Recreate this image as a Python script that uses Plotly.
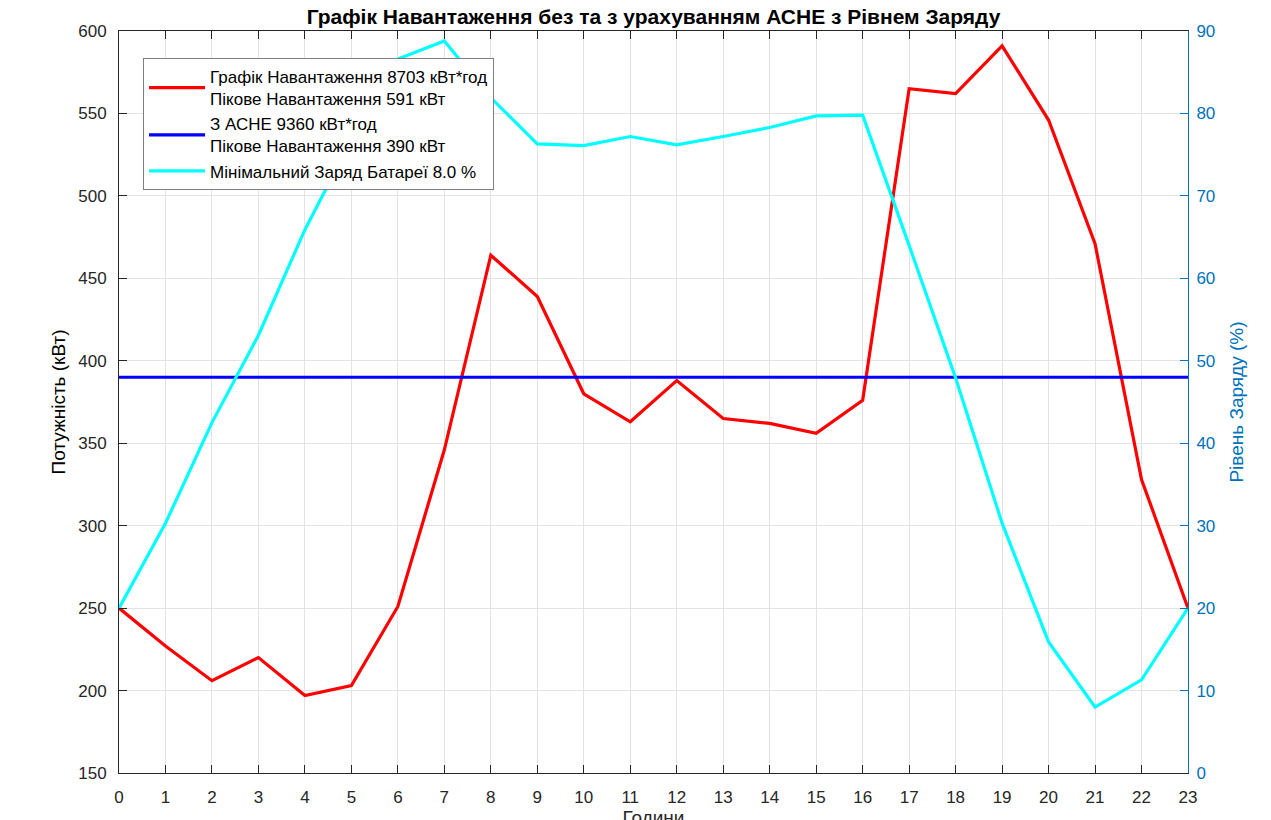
import plotly.graph_objects as go

hours = list(range(24))
load_kw = [250, 227, 206, 220, 197, 203, 251, 346, 464, 439, 380, 363, 388, 365, 362, 356,
           376, 565, 562, 591, 546, 471, 328, 250]
bess_kw = [390] * 24
soc_pct = [20.0, 30.3, 42.5, 53.1, 65.9, 76.8, 86.6, 88.8, 81.9, 76.3, 76.1, 77.2, 76.2, 77.2,
           78.3, 79.7, 79.8, 64.0, 47.9, 30.3, 15.9, 8.0, 11.3, 20.0]

title_text = "Графік Навантаження без та з урахуванням АСНЕ з Рівнем Заряду"
name_load = "Графік Навантаження 8703 кВт*год<br>Пікове Навантаження 591 кВт"
name_bess = "З АСНЕ 9360 кВт*год<br>Пікове Навантаження 390 кВт"
name_soc = "Мінімальний Заряд Батареї 8.0 %"

FONT = "Liberation Sans, Arial, sans-serif"
AXC = "#262626"
BLUE_AX = "#0072BD"

fig = go.Figure()
fig.add_trace(go.Scatter(x=hours, y=load_kw, mode="lines", name=name_load,
                         line=dict(color="#FF0000", width=3.2)))
fig.add_trace(go.Scatter(x=hours, y=bess_kw, mode="lines", name=name_bess,
                         line=dict(color="#0000FF", width=3.2)))
fig.add_trace(go.Scatter(x=hours, y=soc_pct, mode="lines", name=name_soc, yaxis="y2",
                         line=dict(color="#00FFFF", width=3.2)))

fig.update_layout(
    width=1271, height=820,
    margin=dict(l=111, r=91, t=23, b=55),
    paper_bgcolor="white", plot_bgcolor="white",
    font=dict(family=FONT, size=17, color=AXC),
    title=dict(text="<b>" + title_text + "</b>", xref="paper", x=0.5, xanchor="center",
               yref="container", y=0.9895, yanchor="middle",
               automargin=False,
               font=dict(family=FONT, size=21, color="black")),
    showlegend=True,
    legend=dict(x=0.0225, y=0.9636, xanchor="left", yanchor="top",
                bgcolor="white", bordercolor="#7f7f7f", borderwidth=1,
                font=dict(family=FONT, size=17, color="black"), tracegroupgap=0,
                itemwidth=56),
    xaxis=dict(range=[0, 23], tickmode="linear", dtick=1, showgrid=True, automargin=False,
               gridcolor="#e3e3e3", gridwidth=1, zeroline=False,
               showline=True, linecolor=AXC, linewidth=1, mirror="ticks",
               ticks="inside", ticklen=8, tickcolor=AXC,
               tickfont=dict(size=17, color=AXC), ticklabelstandoff=9,
               title=dict(text="Години", standoff=12, font=dict(size=19, color=AXC))),
    yaxis=dict(range=[150, 600], tickmode="linear", dtick=50, showgrid=True, automargin=False,
               gridcolor="#e3e3e3", gridwidth=1, zeroline=False,
               showline=True, linecolor=AXC, linewidth=1,
               ticks="inside", ticklen=8, tickcolor=AXC,
               tickfont=dict(size=17, color=AXC), ticklabelstandoff=8,
               title=dict(text="Потужність (кВт)", standoff=7, font=dict(size=19, color="black"))),
    yaxis2=dict(range=[0, 90], tickmode="linear", dtick=10, overlaying="y", side="right",
                showgrid=False, zeroline=False, automargin=False,
                showline=True, linecolor=BLUE_AX, linewidth=1,
                ticks="inside", ticklen=8, tickcolor=BLUE_AX,
                tickfont=dict(size=17, color=BLUE_AX), ticklabelstandoff=4,
                title=dict(text="Рівень Заряду (%)", standoff=15, font=dict(size=19, color=BLUE_AX))),
)

fig.write_html("out.html")
